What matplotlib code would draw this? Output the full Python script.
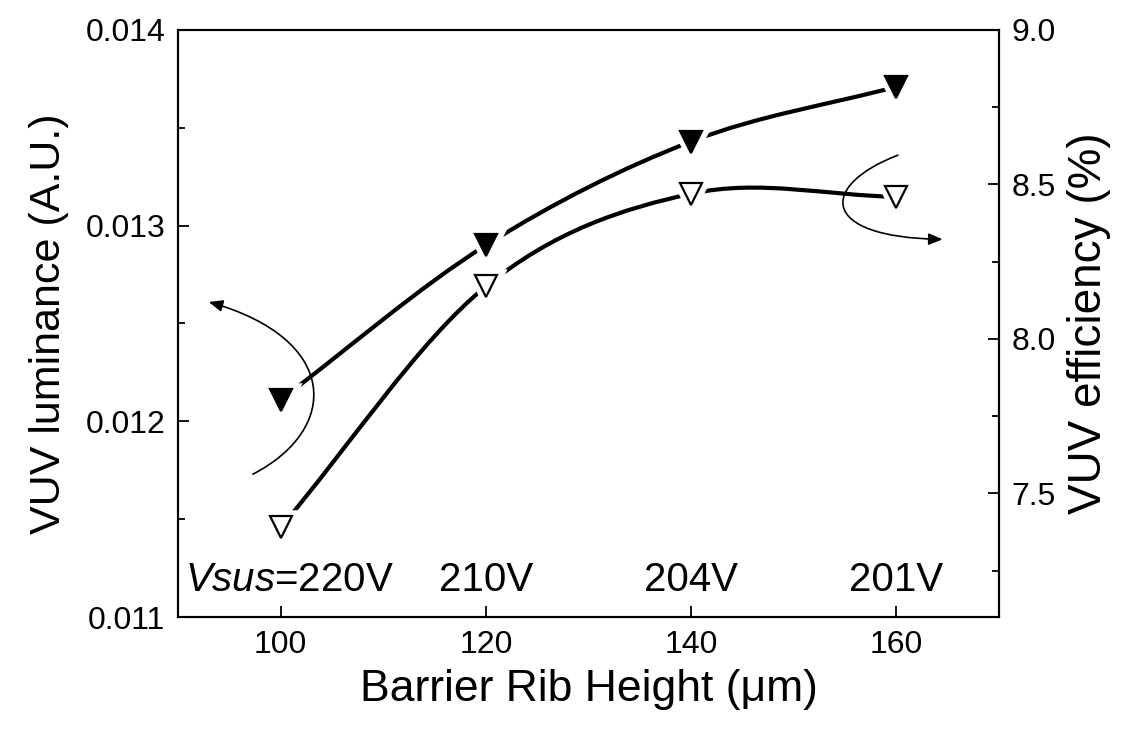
import matplotlib
matplotlib.use('Agg')
import matplotlib.pyplot as plt
from matplotlib.path import Path
from matplotlib.patches import PathPatch, FancyArrowPatch
from matplotlib.ticker import MultipleLocator, FormatStrFormatter

plt.rcParams['font.family'] = ['Liberation Sans', 'DejaVu Sans']
plt.rcParams['mathtext.fontset'] = 'custom'
plt.rcParams['mathtext.rm'] = 'Liberation Sans'
plt.rcParams['mathtext.it'] = 'Liberation Sans:italic'

# values
rib_height = [100, 120, 140, 160]
vuv_luminance = [0.01211, 0.01290, 0.01343, 0.01371]
vuv_efficiency = [7.39, 8.17, 8.47, 8.46]
vsus_labels = [r'$\mathit{Vsus}$=220V', '210V', '204V', '201V']


def smooth_path(xs, ys):
    """Catmull-Rom style bezier path through the given points."""
    pts = list(zip(xs, ys))
    n = len(pts)
    first = (2 * pts[0][0] - pts[1][0], 2 * pts[0][1] - pts[1][1])
    last = (2 * pts[-1][0] - pts[-2][0], 2 * pts[-1][1] - pts[-2][1])
    ext = [first] + pts + [last]
    verts = [pts[0]]
    codes = [Path.MOVETO]
    for i in range(1, n):
        p0, p1, p2, p3 = ext[i - 1], ext[i], ext[i + 1], ext[i + 2]
        c1 = (p1[0] + (p2[0] - p0[0]) / 6, p1[1] + (p2[1] - p0[1]) / 6)
        c2 = (p2[0] - (p3[0] - p1[0]) / 6, p2[1] - (p3[1] - p1[1]) / 6)
        verts += [c1, c2, p2]
        codes += [Path.CURVE4] * 3
    return Path(verts, codes)


def draw_series(ax, xs, ys, filled):
    ax.add_patch(PathPatch(smooth_path(xs, ys), fill=False, lw=3,
                           edgecolor='black', zorder=2))
    # white halo so the line stops short of each marker
    ax.plot(xs, ys, 'v', ms=16, mfc='white', mec='white', mew=9,
            ls='none', zorder=3)
    ax.plot(xs, ys, 'v', ms=16, mfc='black' if filled else 'white',
            mec='black', mew=1.6, ls='none', zorder=4)


fig, ax = plt.subplots(figsize=(11.22, 7.4), dpi=100)
fig.subplots_adjust(left=0.1586, right=0.8904, bottom=0.1662, top=0.9595)
ax2 = ax.twinx()

draw_series(ax, rib_height, vuv_luminance, True)
draw_series(ax2, rib_height, vuv_efficiency, False)

ax.set_xlim(90, 170)
ax.set_ylim(0.011, 0.014)
ax2.set_ylim(7.1, 9.0)

ax.xaxis.set_major_locator(MultipleLocator(20))
ax.yaxis.set_major_locator(MultipleLocator(0.001))
ax.yaxis.set_minor_locator(MultipleLocator(0.0005))
ax.yaxis.set_major_formatter(FormatStrFormatter('%.3f'))
ax2.yaxis.set_major_locator(MultipleLocator(0.5))
ax2.yaxis.set_minor_locator(MultipleLocator(0.25))
ax2.yaxis.set_major_formatter(FormatStrFormatter('%.1f'))

ax.tick_params(which='both', direction='in', top=False, right=False,
               width=1.3, labelsize=23, pad=9)
ax.tick_params(which='major', length=8)
ax.tick_params(which='minor', length=5)
ax2.tick_params(which='both', direction='in', width=1.3, labelsize=23, pad=9)
ax2.tick_params(which='major', length=8)
ax2.tick_params(which='minor', length=5)

for a in (ax, ax2):
    for sp in a.spines.values():
        sp.set_linewidth(1.5)

ax.set_xlabel('Barrier Rib Height (μm)', fontsize=32, labelpad=7)
ax.set_ylabel('VUV luminance (A.U.)', fontsize=31, labelpad=12)
ax2.set_ylabel('VUV efficiency (%)', fontsize=33, labelpad=8)

for i, (x, lab) in enumerate(zip(rib_height, vsus_labels)):
    ax.annotate(lab, (x, 0.01119), xytext=(6 if i == 0 else 0, 0),
                textcoords='offset points', ha='center', va='center',
                fontsize=29)

# curved arrows pointing to the axis each curve belongs to
left_arrow = Path([(97.3, 0.01173), (105.8, 0.01196), (105.8, 0.01242),
                   (93.0, 0.01261)],
                  [Path.MOVETO, Path.CURVE4, Path.CURVE4, Path.CURVE4])
right_arrow = Path([(160.15, 0.01336), (152.6, 0.01321), (152.2, 0.01294),
                    (164.5, 0.01293)],
                   [Path.MOVETO, Path.CURVE4, Path.CURVE4, Path.CURVE4])
for p in (left_arrow, right_arrow):
    ax.add_patch(FancyArrowPatch(path=p, transform=ax.transData,
                                 arrowstyle='-|>,head_length=0.6,head_width=0.25',
                                 mutation_scale=14, lw=1.2, color='black',
                                 zorder=5))

fig.savefig('out.png', dpi=100)
